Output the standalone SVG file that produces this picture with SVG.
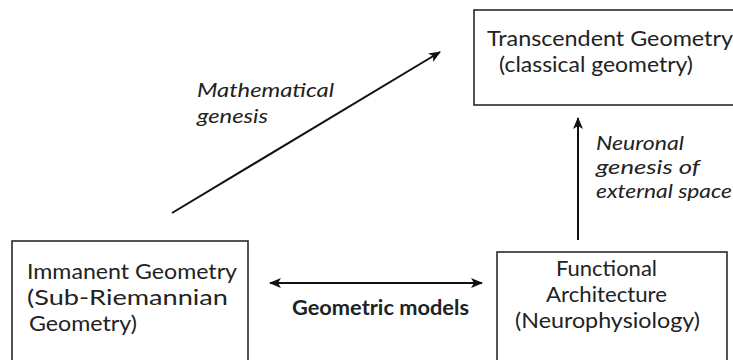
<svg xmlns="http://www.w3.org/2000/svg" width="733" height="360" viewBox="0 0 733 360">
  <defs>
    <style>
      .box { fill: #ffffff; stroke: #2a2a2a; stroke-width: 1.6; }
      .t { font-family: Lato, "Open Sans", sans-serif; font-size: 21px; fill: #222222; }
      .it { font-family: Lato, "Open Sans", sans-serif; font-size: 20px; font-style: italic; fill: #222222; }
      .b { font-family: Lato, "Open Sans", sans-serif; font-size: 20px; font-weight: bold; fill: #222222; }
      .conn { stroke: #111111; stroke-width: 2; fill: none; }
    </style>
    <marker id="ah" viewBox="0 0 12 10" refX="11" refY="5" markerWidth="12" markerHeight="10" markerUnits="userSpaceOnUse" orient="auto-start-reverse">
      <path d="M0,0 L12,5 L0,10 L3,5 z" fill="#111111"/>
    </marker>
  </defs>
  <rect width="733" height="360" fill="#ffffff"/>

  <g id="transcendent">
    <rect class="box" x="474" y="10" width="270" height="95"/>
    <text class="t" x="487" y="46" textLength="246" lengthAdjust="spacingAndGlyphs">Transcendent Geometry</text>
    <text class="t" x="499" y="72" textLength="194" lengthAdjust="spacingAndGlyphs">(classical geometry)</text>
  </g>

  <g id="immanent">
    <rect class="box" x="12" y="241" width="236" height="130"/>
    <text class="t" x="27" y="279" textLength="210" lengthAdjust="spacingAndGlyphs">Immanent Geometry</text>
    <text class="t" x="27" y="305" textLength="201" lengthAdjust="spacingAndGlyphs">(Sub-Riemannian</text>
    <text class="t" x="29" y="331" textLength="108" lengthAdjust="spacingAndGlyphs">Geometry)</text>
  </g>

  <g id="functional">
    <rect class="box" x="497" y="252" width="230" height="120"/>
    <text class="t" x="556" y="276" textLength="101" lengthAdjust="spacingAndGlyphs">Functional</text>
    <text class="t" x="546" y="302" textLength="121" lengthAdjust="spacingAndGlyphs">Architecture</text>
    <text class="t" x="515" y="328" textLength="185" lengthAdjust="spacingAndGlyphs">(Neurophysiology)</text>
  </g>

  <g id="connectors">
    <line class="conn" x1="172" y1="213" x2="440" y2="52" marker-end="url(#ah)"/>
    <line class="conn" x1="578" y1="240" x2="578" y2="118" marker-end="url(#ah)"/>
    <line class="conn" x1="270" y1="283" x2="482" y2="283" marker-start="url(#ah)" marker-end="url(#ah)"/>
  </g>

  <g id="labels">
    <text class="it" x="197" y="97" textLength="137" lengthAdjust="spacingAndGlyphs">Mathematical</text>
    <text class="it" x="197" y="123" textLength="71" lengthAdjust="spacingAndGlyphs">genesis</text>
    <text class="it" x="596" y="150" textLength="88" lengthAdjust="spacingAndGlyphs">Neuronal</text>
    <text class="it" x="596" y="174" textLength="104" lengthAdjust="spacingAndGlyphs">genesis of</text>
    <text class="it" x="596" y="198" textLength="136" lengthAdjust="spacingAndGlyphs">external space</text>
    <text class="b" x="292" y="315" textLength="177" lengthAdjust="spacingAndGlyphs">Geometric models</text>
  </g>
</svg>
